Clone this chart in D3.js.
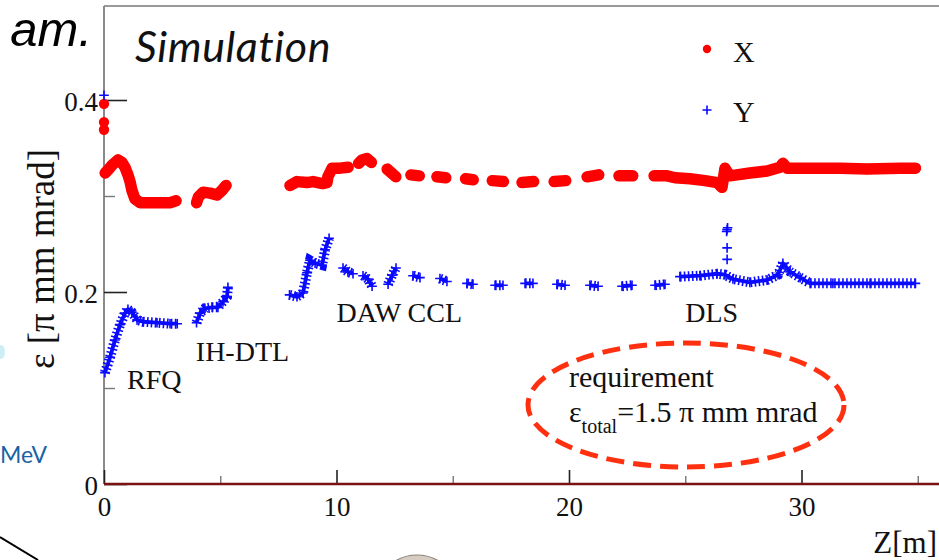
<!DOCTYPE html>
<html><head><meta charset="utf-8">
<script src="https://cdn.jsdelivr.net/npm/d3@7"></script>
<style>body{margin:0;background:#fff;} svg{display:block;}</style>
</head><body>
<svg id="c" width="939" height="560"></svg>
<script>
// ---------- data ----------
const xTicksMajor = [0, 10, 20, 30];
const xTicksMinor = [5, 15, 25, 35];
const yTicksMajor = [0, 0.2, 0.4];
const yTicksMinor = [0.1, 0.3];
const seriesNames = ["X", "Y"];
const sectionLabels = ["RFQ", "IH-DTL", "DAW CCL", "DLS"];

// X emittance (red), isolated points at z=0 and continuous segments
const xIsolated = [[0, 0.396], [0, 0.377], [0, 0.369]];
const xSegments = [
  [[0.05,0.324],[0.17,0.327],[0.34,0.332],[0.60,0.3375],[0.77,0.335],[0.90,0.330],[1.03,0.322],[1.12,0.315],[1.20,0.306],[1.33,0.297],[1.55,0.293],[1.98,0.293],[2.41,0.293],[2.84,0.293],[3.10,0.295]],
  [[3.98,0.293],[4.06,0.299],[4.26,0.304],[4.56,0.303],[4.86,0.301],[5.08,0.306],[5.25,0.311]],
  [[8.00,0.311],[8.30,0.315],[8.73,0.314],[8.99,0.315],[9.40,0.313],[9.59,0.314],[9.63,0.320],[9.81,0.329],[10.15,0.329],[10.50,0.330]],
  [[10.95,0.334],[11.10,0.3375],[11.31,0.339],[11.50,0.335]],
  [[12.18,0.328],[12.55,0.320]],
  [[13.20,0.322],[13.56,0.321]],
  [[14.32,0.320],[14.70,0.319]],
  [[15.55,0.318],[15.88,0.317]],
  [[16.70,0.316],[17.18,0.315]],
  [[17.98,0.314],[18.48,0.315]],
  [[19.36,0.315],[19.86,0.316]],
  [[20.78,0.320],[21.28,0.322]],
  [[22.15,0.321],[22.74,0.321]],
  [[23.66,0.321],[24.22,0.321],[24.56,0.319],[25.20,0.318],[25.85,0.316],[26.37,0.314],[26.58,0.309],[26.71,0.329],[26.80,0.325],[26.92,0.321],[27.78,0.324],[28.52,0.326],[29.08,0.330],[29.20,0.334],[29.38,0.329],[30.37,0.329],[31.66,0.329],[32.82,0.328],[34.24,0.329],[34.90,0.329]]
];

// Y emittance (blue)
const yIsolated = [[0, 0.405], [26.78, 0.263], [26.80, 0.265], [26.82, 0.267], [26.80, 0.246], [26.80, 0.234]];
const ySegments = [
  [[0.04,0.116],[0.26,0.132],[0.47,0.150],[0.69,0.166],[0.90,0.178],[1.03,0.182],[1.20,0.179],[1.42,0.171],[1.68,0.169],[2.28,0.168],[2.84,0.167],[3.15,0.167]],
  [[3.98,0.168],[4.13,0.178],[4.34,0.183],[4.65,0.184],[4.90,0.184],[5.12,0.190],[5.29,0.195],[5.33,0.205]],
  [[7.98,0.197],[8.30,0.195],[8.56,0.199],[8.73,0.220],[8.86,0.233],[9.08,0.230],[9.38,0.228],[9.51,0.244],[9.68,0.256]],
  [[10.28,0.225],[10.49,0.221],[10.71,0.219]],
  [[11.14,0.217],[11.35,0.2135],[11.53,0.206]],
  [[12.22,0.208],[12.39,0.2175],[12.56,0.225]],
  [[13.29,0.217],[13.59,0.215]],
  [[14.45,0.214],[14.75,0.211]],
  [[15.61,0.209],[15.87,0.208]],
  [[16.82,0.207],[17.16,0.207]],
  [[18.11,0.209],[18.45,0.209]],
  [[19.48,0.208],[19.83,0.207]],
  [[20.90,0.207],[21.25,0.206]],
  [[22.28,0.206],[22.71,0.207]],
  [[23.70,0.207],[24.13,0.208]],
  [[24.77,0.216],[25.63,0.217],[26.37,0.219],[26.71,0.218],[27.05,0.2135],[27.78,0.210],[28.52,0.2125],[28.99,0.218],[29.20,0.230],[29.51,0.221],[29.94,0.215],[30.37,0.209],[31.35,0.209],[32.95,0.209],[34.90,0.209]]
];

// ---------- drawing ----------
const svg = d3.select("#c");
const serif = "'Liberation Serif','Times New Roman',serif";
const sans = "Lato,'Open Sans','Noto Sans',sans-serif";
const RED = "#ff0000", BLUE = "#0a0aff";

const x = d3.scaleLinear().domain([0, 36]).range([104, 104 + 36 * 23.25]);
const y = d3.scaleLinear().domain([0, 0.4]).range([484, 100]);

// slide fragments around the chart
svg.append("text").attr("x", 92).attr("y", 46).attr("text-anchor", "end")
  .style("font-family", "'Liberation Sans',Arial,sans-serif").style("font-style", "italic").style("font-size", "49px").text("am.");
svg.append("text").attr("x", 47).attr("y", 463).attr("text-anchor", "end")
  .style("font-family", sans).style("font-size", "23px").attr("fill", "#1a62a6").text("MeV");
svg.append("ellipse").attr("cx", 1).attr("cy", 352).attr("rx", 4).attr("ry", 7).attr("fill", "#cdeef6");
svg.append("line").attr("x1", 0).attr("y1", 537).attr("x2", 38).attr("y2", 560)
  .attr("stroke", "#000").attr("stroke-width", 2);
svg.append("circle").attr("cx", 417).attr("cy", 597).attr("r", 42)
  .attr("fill", "#d6ccc1").attr("stroke", "#8c837a").attr("stroke-width", 1.2);

// frame
svg.append("line").attr("x1", 104).attr("x2", 939).attr("y1", 6).attr("y2", 6)
  .attr("stroke", "#999").attr("stroke-width", 2);
svg.append("line").attr("x1", 104).attr("x2", 104).attr("y1", 6).attr("y2", 484)
  .attr("stroke", "#8a8a8a").attr("stroke-width", 2);

// axes
const gx = svg.append("g").attr("transform", "translate(0,484)");
gx.call(d3.axisBottom(x).tickValues(xTicksMajor).tickFormat(d3.format("d")).tickSize(-14).tickPadding(13));
const gxm = svg.append("g").attr("transform", "translate(0,484)");
gxm.call(d3.axisBottom(x).tickValues(xTicksMinor).tickFormat("").tickSize(-8));
const gy = svg.append("g").attr("transform", "translate(104,0)");
gy.call(d3.axisLeft(y).tickValues(yTicksMajor).tickFormat(d => d === 0 ? "0" : d3.format(".1f")(d)).tickSize(-23).tickPadding(6));
const gym = svg.append("g").attr("transform", "translate(104,0)");
gym.call(d3.axisLeft(y).tickValues(yTicksMinor).tickFormat("").tickSize(-11));
[gx, gxm, gy, gym].forEach(g => g.select(".domain").remove());
[gx, gy].forEach(g => {
  g.selectAll(".tick line").attr("stroke", "#222").attr("stroke-width", 1.6);
  g.selectAll(".tick text").style("font-family", serif).style("font-size", "27px").attr("fill", "#111");
});
gy.selectAll(".tick text").attr("dy", "0.4em");
[gxm, gym].forEach(g => g.selectAll(".tick line").attr("stroke", "#777").attr("stroke-width", 1.4));
svg.append("line").attr("x1", 104).attr("x2", 939).attr("y1", 484).attr("y2", 484)
  .attr("stroke", "#7a1212").attr("stroke-width", 2.5);

// axis titles
svg.append("text").attr("transform", "translate(54,259) rotate(-90)").attr("text-anchor", "middle")
  .style("font-family", serif).style("font-size", "37px").attr("fill", "#111").text("ε [π mm mrad]");
svg.append("text").attr("x", 937).attr("y", 553).attr("text-anchor", "end")
  .style("font-family", serif).style("font-size", "31px").attr("fill", "#111").text("Z[m]");

// series
const line = d3.line().x(d => x(d[0])).y(d => y(d[1]));
const gX = svg.append("g");
gX.selectAll("path").data(xSegments).join("path").attr("d", line)
  .attr("fill", "none").attr("stroke", RED).attr("stroke-width", 11.5)
  .attr("stroke-linecap", "round").attr("stroke-linejoin", "round");
gX.selectAll("circle").data(xSegments.flat().concat(xIsolated)).join("circle")
  .attr("cx", d => x(d[0])).attr("cy", d => y(d[1])).attr("r", 5.2).attr("fill", RED);

const gY = svg.append("g");
gY.selectAll("path.base").data(ySegments).join("path").attr("class", "base").attr("d", line)
  .attr("fill", "none").attr("stroke", BLUE).attr("stroke-width", 3.8).attr("stroke-linejoin", "round");
gY.selectAll("path.bars").data(ySegments).join("path").attr("class", "bars").attr("d", line)
  .attr("fill", "none").attr("stroke", BLUE).attr("stroke-width", 10).attr("stroke-dasharray", "1.6 2.4");
const cross = (sel, s) => sel.append("path").attr("d", `M${-s},0H${s}M0,${-s}V${s}`).attr("stroke", BLUE).attr("stroke-width", 1.6).attr("fill", "none");
gY.selectAll("g.pt").data(ySegments.flat().concat(yIsolated)).join("g").attr("class", "pt")
  .attr("transform", d => `translate(${x(d[0])},${y(d[1])})`).each(function () { cross(d3.select(this), 4.8); });

// section labels
const lab = (t, px, py, fs) => svg.append("text").attr("x", px).attr("y", py)
  .style("font-family", serif).style("font-size", fs + "px").attr("fill", "#111").text(t);
lab(sectionLabels[0], x(0.99), 389, 28);
lab(sectionLabels[1], x(3.95), 361, 28);
lab(sectionLabels[2], x(10.0), 322, 28);
lab(sectionLabels[3], x(25.0), 322, 28);

// legend
svg.append("circle").attr("cx", 707).attr("cy", 49).attr("r", 4.2).attr("fill", RED);
svg.append("g").attr("transform", "translate(707,110)").call(s => cross(s, 4.5));
lab(seriesNames[0], 733, 62, 30);
lab(seriesNames[1], 733, 122, 30);

// Simulation
svg.append("text").attr("x", 135).attr("y", 62).style("font-family", sans).style("font-style", "italic")
  .style("font-size", "43px").style("letter-spacing", "0.6px").attr("fill", "#111").text("Simulation");

// requirement annotation
svg.append("ellipse").attr("cx", 686).attr("cy", 405).attr("rx", 158).attr("ry", 62)
  .attr("fill", "none").attr("stroke", "#ff3010").attr("stroke-width", 5).attr("stroke-dasharray", "18 9");
lab("requirement", 569, 387, 30);
const t2 = svg.append("text").attr("x", 569).attr("y", 422).style("font-family", serif).style("font-size", "30px").attr("fill", "#111");
t2.append("tspan").text("ε");
t2.append("tspan").attr("dy", 11).style("font-size", "20px").text("total");
t2.append("tspan").attr("dy", -11).text("=1.5 π mm mrad");
</script>
</body></html>
